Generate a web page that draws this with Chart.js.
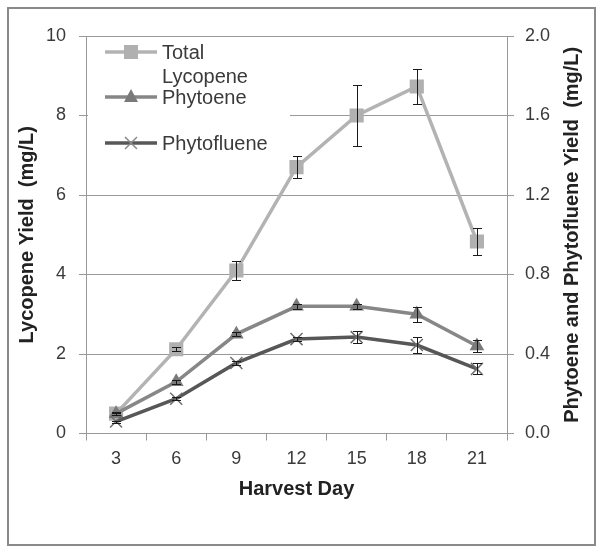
<!DOCTYPE html>
<html>
<head>
<meta charset="utf-8">
<script src="https://cdn.jsdelivr.net/npm/chart.js@4.4.1/dist/chart.umd.min.js"></script>
<style>
  html, body { margin: 0; padding: 0; background: #fff; }
  canvas { display: block; }
</style>
</head>
<body>
<canvas id="chart" width="602" height="560"></canvas>
<script>
// --- DATA ---
const days = ['3', '6', '9', '12', '15', '18', '21'];
const lycopene = [0.5, 2.12, 4.1, 6.7, 8.0, 8.73, 4.83];
const lycopeneErr = [0.04, 0.05, 0.25, 0.27, 0.76, 0.45, 0.33];
const phytoene = [0.10, 0.26, 0.50, 0.64, 0.64, 0.60, 0.44];
const phytoeneErr = [0.005, 0.01, 0.01, 0.012, 0.012, 0.038, 0.03];
const phytofluene = [0.06, 0.175, 0.355, 0.475, 0.485, 0.445, 0.325];
const phytoflueneErr = [0.005, 0.008, 0.01, 0.01, 0.032, 0.04, 0.028];

const gridGrey = '#999999';
const textGrey = '#3a3a3a';
const lightGrey = '#b3b3b3';
const midGrey = '#878787';
const darkGrey = '#575757';
const tickFont = { family: 'Liberation Sans', size: 18 };
const titleFont = { family: 'Liberation Sans', size: 20, weight: 'bold' };

// --- OUTER FRAME ---
const framePlugin = {
    id: 'frame',
    beforeDraw(chart) {
        const ctx = chart.ctx;
        ctx.save();
        ctx.fillStyle = '#fff';
        ctx.fillRect(0, 0, chart.width, chart.height);
        ctx.strokeStyle = '#8a8a8a';
        ctx.lineWidth = 2;
        ctx.strokeRect(8, 8, 587, 537);
        ctx.restore();
    }
};

// --- RIGHT AXIS TITLE (reads bottom to top, like the left one) ---
const rightTitlePlugin = {
    id: 'rightTitle',
    afterDraw(chart) {
        const ctx = chart.ctx;
        const area = chart.chartArea;
        ctx.save();
        ctx.translate(572, (area.top + area.bottom) / 2);
        ctx.rotate(-Math.PI / 2);
        ctx.fillStyle = '#222';
        ctx.font = 'bold 20px "Liberation Sans"';
        ctx.textAlign = 'center';
        ctx.textBaseline = 'middle';
        ctx.fillText('Phytoene and Phytofluene Yield  (mg/L)', 0, 0);
        ctx.restore();
    }
};

// --- LEGEND (inside plot, white box over grid) ---
function drawMarker(ctx, kind, x, y) {
    ctx.beginPath();
    if (kind === 'rect') {
        ctx.fillStyle = '#b0b0b0';
        ctx.fillRect(x - 7, y - 7, 14, 14);
    } else if (kind === 'triangle') {
        ctx.fillStyle = '#7a7a7a';
        ctx.moveTo(x, y - 8);
        ctx.lineTo(x + 7, y + 5);
        ctx.lineTo(x - 7, y + 5);
        ctx.closePath();
        ctx.fill();
    } else {
        ctx.strokeStyle = '#8a8a8a';
        ctx.lineWidth = 1.5;
        ctx.moveTo(x - 6, y - 6); ctx.lineTo(x + 6, y + 6);
        ctx.moveTo(x + 6, y - 6); ctx.lineTo(x - 6, y + 6);
        ctx.stroke();
    }
}

const legendPlugin = {
    id: 'innerLegend',
    beforeDatasetsDraw(chart) {
        const ctx = chart.ctx;
        ctx.save();
        ctx.fillStyle = '#fff';
        ctx.fillRect(88, 38, 202, 125);
        const items = [
            { color: lightGrey, kind: 'rect', y: 52, text: ['Total', 'Lycopene'] },
            { color: midGrey, kind: 'triangle', y: 97, text: ['Phytoene'] },
            { color: darkGrey, kind: 'cross', y: 143, text: ['Phytofluene'] }
        ];
        items.forEach(it => {
            ctx.strokeStyle = it.color;
            ctx.lineWidth = 3.5;
            ctx.beginPath();
            ctx.moveTo(105, it.y);
            ctx.lineTo(157, it.y);
            ctx.stroke();
            drawMarker(ctx, it.kind, 131, it.y);
            ctx.fillStyle = textGrey;
            ctx.font = '20px "Liberation Sans"';
            ctx.textBaseline = 'alphabetic';
            it.text.forEach((t, i) => ctx.fillText(t, 162, it.y + 7 + i * 24));
        });
        ctx.restore();
    }
};

// --- ERROR BARS ---
const errorBarPlugin = {
    id: 'errorBars',
    afterDatasetsDraw(chart) {
        const ctx = chart.ctx;
        ctx.save();
        ctx.strokeStyle = '#1a1a1a';
        ctx.lineWidth = 1;
        chart.data.datasets.forEach((ds, i) => {
            const meta = chart.getDatasetMeta(i);
            const yScale = chart.scales[ds.yAxisID];
            meta.data.forEach((pt, j) => {
                const v = ds.data[j];
                const e = ds.errors[j];
                const top = Math.round(yScale.getPixelForValue(v + e)) + 0.5;
                const bot = Math.round(yScale.getPixelForValue(v - e)) + 0.5;
                const x = Math.round(pt.x) + 0.5;
                ctx.beginPath();
                ctx.moveTo(x, top); ctx.lineTo(x, bot);
                ctx.moveTo(x - 4.5, top); ctx.lineTo(x + 4.5, top);
                ctx.moveTo(x - 4.5, bot); ctx.lineTo(x + 4.5, bot);
                ctx.stroke();
            });
        });
        ctx.restore();
    }
};

new Chart(document.getElementById('chart'), {
    type: 'line',
    data: {
        labels: days,
        datasets: [
            {
                label: 'Total Lycopene',
                data: lycopene,
                errors: lycopeneErr,
                yAxisID: 'y',
                borderColor: lightGrey,
                borderWidth: 3.5,
                pointStyle: 'rect',
                pointRadius: 10,
                pointBackgroundColor: '#b0b0b0',
                pointBorderColor: '#b0b0b0',
                pointBorderWidth: 0,
                order: 3
            },
            {
                label: 'Phytoene',
                data: phytoene,
                errors: phytoeneErr,
                yAxisID: 'y2',
                borderColor: midGrey,
                borderWidth: 3.5,
                pointStyle: 'triangle',
                pointRadius: 8.5,
                pointBackgroundColor: '#7a7a7a',
                pointBorderColor: '#7a7a7a',
                pointBorderWidth: 0,
                order: 2
            },
            {
                label: 'Phytofluene',
                data: phytofluene,
                errors: phytoflueneErr,
                yAxisID: 'y2',
                borderColor: darkGrey,
                borderWidth: 3.5,
                pointStyle: 'crossRot',
                pointRadius: 8.5,
                pointBorderColor: '#6e6e6e',
                pointBorderWidth: 1.5,
                order: 1
            }
        ]
    },
    options: {
        responsive: false,
        animation: false,
        layout: { padding: { top: 36, left: 0, right: 0, bottom: 0 } },
        plugins: {
            legend: { display: false },
            tooltip: { enabled: false }
        },
        scales: {
            x: {
                offset: true,
                grid: { offset: true, drawOnChartArea: false, tickLength: 7, color: gridGrey },
                border: { color: gridGrey },
                ticks: { font: tickFont, color: textGrey, padding: 8 },
                title: { display: true, text: 'Harvest Day', font: titleFont, color: '#222', padding: { top: 0, bottom: 59 } },
                afterFit: s => { s.height = 126.5; }
            },
            y: {
                position: 'left',
                min: 0,
                max: 10,
                ticks: { stepSize: 2, font: tickFont, color: textGrey, padding: 13 },
                grid: { color: gridGrey, tickLength: 7 },
                border: { color: gridGrey },
                title: { display: true, text: 'Lycopene Yield  (mg/L)', font: titleFont, color: '#222', padding: { top: 15, bottom: 0 } },
                afterFit: s => { s.width = 86; }
            },
            y2: {
                position: 'right',
                min: 0,
                max: 2,
                ticks: { stepSize: 0.4, font: tickFont, color: textGrey, padding: 11, callback: v => v.toFixed(1) },
                grid: { drawOnChartArea: false, color: gridGrey, tickLength: 7 },
                border: { color: gridGrey },
                title: { display: false },
                afterFit: s => { s.width = 95; }
            }
        }
    },
    plugins: [framePlugin, legendPlugin, errorBarPlugin, rightTitlePlugin]
});
</script>
</body>
</html>
